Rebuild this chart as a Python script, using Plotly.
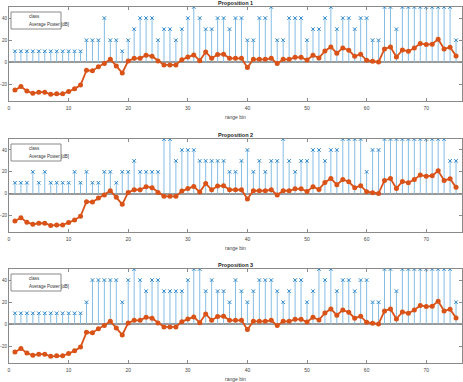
import plotly.graph_objects as go

bins = list(range(1, 76))

power_db = [-25, -22, -26, -28, -27, -27, -29, -28.5, -28.5, -26.4,
            -24, -20.6, -7.3, -7.6, -4, -1.2, 2.7, -3.3, -9.7, 1.2,
            3.6, 3.6, 6.4, 5.5, 1.2, -2.4, -2.4, -2.4, 2.4, 4.8,
            6.7, 1.5, 9.4, 3.6, 7, 7.3, 3.6, 3.6, 3.6, -4.8,
            2.7, 2.7, 2.7, 3.6, -1.2, 2.7, 2.7, 4.5, 4.5, 2.1,
            6.4, 3.9, 10.3, 13.9, 8.2, 13, 10.9, 5.5, 7.3, 1.8,
            0.9, 0.3, 12.1, 13.9, 4.8, 11.2, 10, 13, 17, 16,
            16.4, 20.9, 12.1, 13.6, 5.8]

class_p1 = [10, 10, 10, 10, 10, 10, 10, 10, 10, 10,
            10, 10, 20, 20, 20, 40, 20, 20, 10, 20,
            30, 40, 40, 40, 20, 30, 30, 20, 30, 40,
            50, 40, 30, 30, 40, 40, 30, 40, 40, 20,
            20, 40, 40, 50, 20, 20, 40, 40, 40, 20,
            30, 30, 40, 50, 30, 40, 40, 30, 40, 40,
            20, 20, 50, 50, 30, 50, 50, 50, 50, 50,
            50, 50, 50, 50, 20]

class_p2 = [10, 10, 10, 20, 10, 20, 10, 10, 10, 10,
            20, 10, 20, 10, 10, 20, 20, 10, 20, 20,
            30, 20, 20, 20, 20, 50, 50, 30, 40, 40,
            40, 30, 30, 30, 30, 30, 20, 20, 30, 40,
            20, 30, 20, 30, 30, 50, 30, 20, 30, 30,
            40, 40, 30, 40, 40, 50, 50, 50, 50, 20,
            40, 40, 50, 50, 50, 50, 50, 50, 50, 50,
            50, 50, 50, 30, 30]

class_p3 = [10, 10, 10, 10, 10, 10, 10, 10, 10, 10,
            10, 10, 20, 40, 40, 40, 40, 40, 20, 40,
            50, 40, 30, 40, 40, 30, 30, 30, 30, 40,
            50, 50, 30, 40, 30, 30, 20, 40, 30, 20,
            30, 40, 40, 40, 30, 20, 30, 40, 40, 20,
            30, 50, 40, 50, 30, 40, 40, 30, 40, 40,
            20, 20, 50, 50, 30, 50, 50, 50, 50, 50,
            50, 50, 50, 50, 20]

titles = ["Proposition 1", "Proposition 2", "Proposition 3"]
legend_labels = ["class", "Average Power [dB]"]
x_ticks = [0, 10, 20, 30, 40, 50, 60, 70]
y_ticks = [-20, 0, 20, 40]

W, H = 463, 382
ML, MR = 9, 1
PW = W - ML - MR
axes_px = [(7, 101), (139, 232), (269, 363)]

STEM_LINE = "#86bde3"
STEM_MARK = "#2a86c9"
ORANGE = "#D95319"
FRAME = "#8a8a8a"
FONT = "Liberation Sans"

fig = go.Figure()
all_classes = [class_p1, class_p2, class_p3]

for i, cls in enumerate(all_classes):
    n = i + 1
    xa = "x" if n == 1 else f"x{n}"
    ya = "y" if n == 1 else f"y{n}"
    sx, sy = [], []
    for b, v in zip(bins, cls):
        sx += [b, b, None]
        sy += [0, v, None]
    fig.add_trace(go.Scatter(x=sx, y=sy, mode="lines", xaxis=xa, yaxis=ya,
                             line=dict(color=STEM_LINE, width=1),
                             showlegend=False, hoverinfo="skip"))
    fig.add_trace(go.Scatter(x=bins, y=cls, mode="markers", xaxis=xa, yaxis=ya,
                             name=legend_labels[0],
                             marker=dict(symbol="x-thin", size=3.5,
                                         line=dict(color=STEM_MARK, width=1),
                                         color=STEM_MARK),
                             showlegend=False))
    fig.add_trace(go.Scatter(x=bins, y=power_db, mode="lines+markers",
                             xaxis=xa, yaxis=ya, name=legend_labels[1],
                             showlegend=False,
                             line=dict(color=ORANGE, width=1.8),
                             marker=dict(symbol="circle", size=5, color=ORANGE)))

    top, bot = axes_px[i]
    d0 = 1 - bot / H
    d1 = 1 - top / H
    axis_common = dict(showline=True, linecolor=FRAME, linewidth=1, mirror="ticks",
                       ticks="inside", ticklen=3, tickcolor=FRAME, showgrid=False,
                       automargin=False)
    fig.layout[f"xaxis{'' if n == 1 else n}"] = dict(
        domain=[0, 1], anchor=ya, range=[0, 76], tickvals=x_ticks,
        zeroline=False, ticklabelstandoff=2,
        tickfont=dict(size=5, family=FONT, color="#444"), **axis_common)
    fig.layout[f"yaxis{'' if n == 1 else n}"] = dict(
        domain=[d0, d1], anchor=xa, range=[-35, 50], tickvals=y_ticks,
        zeroline=True, zerolinecolor="#9a9a9a", zerolinewidth=1.5,
        tickfont=dict(size=4.5, family=FONT, color="#444"), **axis_common)
    fig.add_annotation(text="<b>" + titles[i] + "</b>", xref="paper", yref="paper",
                       x=0.5, y=d1, yanchor="bottom", xanchor="center", showarrow=False,
                       yshift=-1, font=dict(size=5.5, family=FONT, color="#222"))
    fig.add_annotation(text="range bin", xref="paper", yref="paper",
                       x=0.5, y=d0, yanchor="middle", xanchor="center", showarrow=False,
                       yshift=-16, font=dict(size=5, family=FONT, color="#444"))

    # custom compact legend drawn in its own small axes
    ln = n + 3
    lxa, lya = f"x{ln}", f"y{ln}"
    lx0 = (11 - ML) / PW
    lx1 = (61 - ML) / PW
    ly1 = 1 - (top + 5) / H
    ly0 = 1 - (top + 22) / H
    fig.layout[f"xaxis{ln}"] = dict(domain=[lx0, lx1], anchor=lya, range=[0, 1],
                                    visible=False, fixedrange=True)
    fig.layout[f"yaxis{ln}"] = dict(domain=[ly0, ly1], anchor=lxa, range=[0, 1],
                                    visible=False, fixedrange=True)
    fig.add_shape(type="rect", xref=f"x{ln} domain", yref=f"y{ln} domain",
                  x0=0, x1=1, y0=0, y1=1, line=dict(color=FRAME, width=1),
                  fillcolor="white", layer="above")
    fig.add_trace(go.Scatter(x=[0.04, 0.2], y=[0.72, 0.72], mode="lines",
                             xaxis=lxa, yaxis=lya, showlegend=False, hoverinfo="skip",
                             line=dict(color=STEM_LINE, width=1)))
    fig.add_trace(go.Scatter(x=[0.2], y=[0.72], mode="markers",
                             xaxis=lxa, yaxis=lya, showlegend=False, hoverinfo="skip",
                             marker=dict(symbol="x-thin", size=3.5,
                                         line=dict(color=STEM_MARK, width=1))))
    fig.add_trace(go.Scatter(x=[0.04, 0.28], y=[0.28, 0.28], mode="lines",
                             xaxis=lxa, yaxis=lya, showlegend=False, hoverinfo="skip",
                             line=dict(color=ORANGE, width=1.8)))
    fig.add_trace(go.Scatter(x=[0.16], y=[0.28], mode="markers",
                             xaxis=lxa, yaxis=lya, showlegend=False, hoverinfo="skip",
                             marker=dict(symbol="circle", size=5, color=ORANGE)))
    for lab, yy in zip(legend_labels, [0.72, 0.28]):
        fig.add_annotation(text=lab, xref=lxa, yref=lya, x=0.31, y=yy,
                           xanchor="left", yanchor="middle", showarrow=False,
                           font=dict(size=4.5, family=FONT, color="#333"))

fig.update_layout(width=W, height=H, template="none",
                  margin=dict(l=ML, r=MR, t=0, b=0, autoexpand=False),
                  plot_bgcolor="white", paper_bgcolor="white", showlegend=False)

fig.write_html("out.html", config={"displayModeBar": False},
               post_script="document.body.style.margin='0';document.body.style.overflow='hidden';")
